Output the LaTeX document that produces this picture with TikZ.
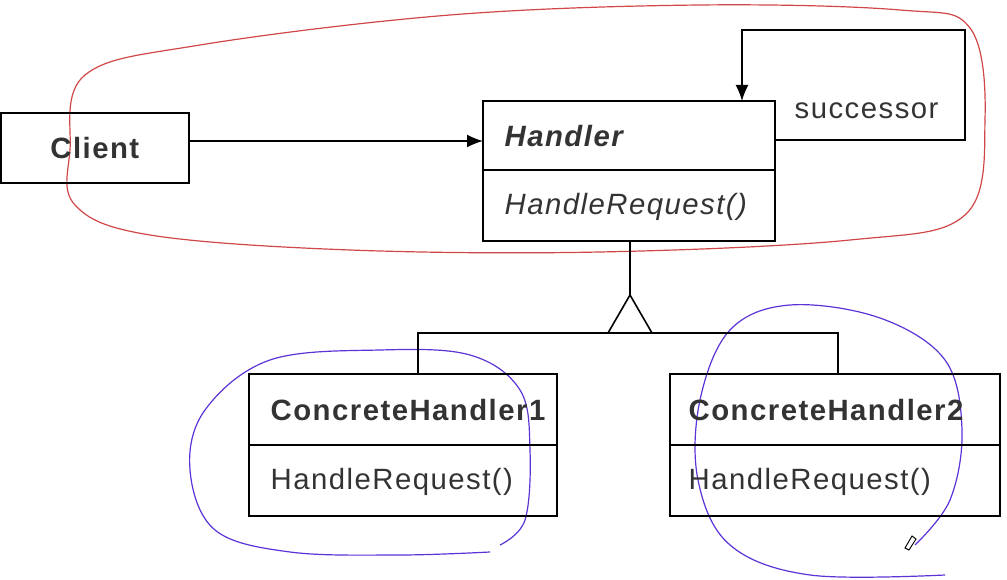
\documentclass[tikz,border=0pt]{standalone}
\usepackage{fontspec}
\setmainfont{Liberation Sans}[LetterSpace=5]
\usetikzlibrary{arrows.meta}
\begin{document}
\begin{tikzpicture}[x=0.75pt,y=-0.75pt,
  box/.style={draw,line width=1.2pt,minimum height=0},
  txt/.style={font=\fontsize{22}{26}\selectfont,text=black!80},
  ink/.style={line width=0.9pt}]
\useasboundingbox (0,0) rectangle (1007,580);
% red loop
\draw[ink,red!60!gray!90] plot[smooth cycle,tension=0.6] coordinates{
 (70,150) (85,75) (200,45) (450,15) (700,5) (900,10) (970,28) (985,120) (965,215)
 (850,240) (600,252) (350,250) (150,235) (75,205)};
% blue loops
\draw[ink,blue!60!violet!80] plot[smooth,tension=0.6] coordinates{
 (500,545) (525,520) (530,450) (520,390) (470,355) (380,350) (270,360) (205,410) (190,470) (215,530) (290,552) (400,555) (490,552)};
\draw[ink,blue!60!violet!80] plot[smooth,tension=0.6] coordinates{
 (915,545) (950,500) (962,430) (945,360) (880,318) (790,305) (730,330) (700,400) (698,480) (730,545) (810,575) (945,575)};
\draw[line width=0.7pt] (905,548) -- (912,536) -- (916,539) -- (909,550) -- cycle;
% Client
\node[box,minimum width=188*0.75pt,minimum height=70*0.75pt,anchor=north west,
  txt,font=\fontsize{22}{26}\selectfont\bfseries] (client) at (0,112) {Client};
% Handler
\draw[box] (483,101) rectangle (775,241);
\draw[line width=1.2pt] (483,170) -- (775,170);
\node[txt,font=\fontsize{22}{26}\selectfont\bfseries\itshape,anchor=west] (h) at (500,136) {Handler};
\node[txt,font=\fontsize{22}{26}\selectfont\itshape,anchor=west] (hr) at (500,207) {HandleRequest()};
\coordinate (hl) at (483,141);
\draw[line width=1.2pt,-{Latex[length=16pt*0.75,width=13pt*0.75]}] (188,141) -- (hl);
\coordinate (ht) at (742,101);
\draw[line width=1.2pt,-{Latex[length=16pt*0.75,width=13pt*0.75]}] (775,140) -- (965,140) -- (965,30) -- (742,30) -- (ht);
\node[txt,anchor=west] (succ) at (790,111) {successor};
% inheritance
\draw[line width=1.2pt] (630,241) -- (630,295);
\draw[line width=1.2pt] (630,295) -- (652,333) -- (608,333) -- cycle;
\draw[line width=1.2pt] (418,374) -- (418,333) -- (838,333) -- (838,374);
% CH1
\draw[box] (249,374) rectangle (557,516);
\draw[line width=1.2pt] (249,445) -- (557,445);
\node[txt,font=\fontsize{22}{26}\selectfont\bfseries,anchor=west] (c1) at (266,410) {ConcreteHandler1};
\node[txt,anchor=west] (c1r) at (266,482) {HandleRequest()};
% CH2
\draw[box] (670,374) rectangle (1000,516);
\draw[line width=1.2pt] (670,445) -- (1000,445);
\node[txt,font=\fontsize{22}{26}\selectfont\bfseries,anchor=west] (c2) at (684,410) {ConcreteHandler2};
\node[txt,anchor=west] (c2r) at (684,482) {HandleRequest()};
\end{tikzpicture}
\end{document}
